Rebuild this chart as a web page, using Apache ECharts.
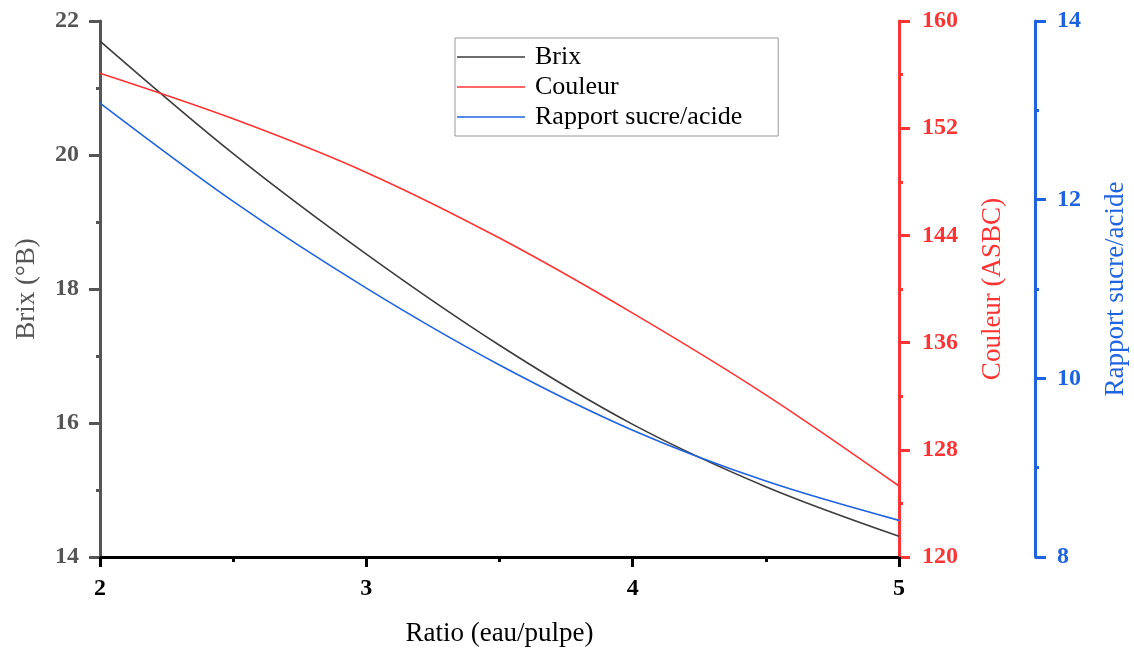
<!DOCTYPE html>
<html>
<head>
<meta charset="utf-8">
<script src="https://cdn.jsdelivr.net/npm/echarts@6/dist/echarts.min.js"></script>
<style>
html,body{margin:0;padding:0;background:#fff;}
#c{width:1134px;height:648px;}
</style>
</head>
<body>
<div id="c"></div>
<script>
const ratio = [2, 2.5, 3, 3.5, 4, 4.5, 5];
const brix = [21.70, 20.02, 18.52, 17.16, 15.98, 15.05, 14.31];
const couleur = [156.1, 152.7, 148.7, 143.8, 138.2, 132.1, 125.3];
const rapport = [13.08, 11.98, 11.01, 10.15, 9.42, 8.85, 8.41];
const seriesNames = ['Brix', 'Couleur', 'Rapport sucre/acide'];
const xTitle = 'Ratio (eau/pulpe)';
const yTitles = ['Brix (°B)', 'Couleur (ASBC)', 'Rapport sucre/acide'];

const SERIF = '"Liberation Serif", "Times New Roman", serif';
const GRAY = '#555555';
const RED = '#ff3333';
const BLUE = '#1f63e0';
const pairs = (ys) => ratio.map((x, i) => [x, ys[i]]);

const chart = echarts.init(document.getElementById('c'), null, {renderer: 'canvas'});
const yBase = (color, nameColor, margin) => ({
  type: 'value',
  nameLocation: 'middle',
  nameRotate: 90,
  nameTextStyle: {fontFamily: SERIF, fontSize: 27, color: nameColor},
  axisLine: {show: true, onZero: false, lineStyle: {color: color, width: 3}},
  axisTick: {show: true, inside: false, length: 11, lineStyle: {color: color, width: 3}},
  minorTick: {show: true, splitNumber: 2, length: 4, lineStyle: {color: color, width: 3}},
  axisLabel: {fontFamily: SERIF, fontWeight: 'bold', fontSize: 24, color: color, margin: margin},
  splitLine: {show: false}
});

const lineSeries = (i, ys, color) => ({
  name: seriesNames[i], type: 'line', yAxisIndex: i, data: pairs(ys),
  smooth: 0.3333, showSymbol: false, symbol: 'none',
  lineStyle: {color: color, width: 1.6}, itemStyle: {color: color}
});

chart.setOption({
  backgroundColor: '#ffffff',
  animation: false,
  grid: {left: 100, right: 235, top: 21, bottom: 91, containLabel: false, outerBoundsMode: 'none'},
  legend: {
    orient: 'vertical',
    left: 455, top: 38,
    padding: [4, 36, 4, 2],
    borderColor: '#999999', borderWidth: 1,
    itemWidth: 68, itemHeight: 14, itemGap: 0,
    textStyle: {fontFamily: SERIF, fontSize: 26, color: '#000', lineHeight: 30, padding: [0, 0, 0, 5]},
    data: seriesNames.map(n => ({name: n, icon: 'path://M0,0 L68,0 L68,1.5 L0,1.5 Z'}))
  },
  xAxis: {
    type: 'value', min: 2, max: 5, interval: 1,
    name: xTitle, nameLocation: 'middle', nameGap: 63,
    nameTextStyle: {fontFamily: SERIF, fontSize: 27, color: '#000'},
    axisLine: {show: true, onZero: false, lineStyle: {color: '#000', width: 3}},
    axisTick: {show: true, length: 10, lineStyle: {color: '#000', width: 3}},
    minorTick: {show: true, splitNumber: 2, length: 5, lineStyle: {color: '#000', width: 3}},
    axisLabel: {fontFamily: SERIF, fontWeight: 'bold', fontSize: 24, color: '#000', margin: 20},
    splitLine: {show: false}
  },
  yAxis: [
    Object.assign(yBase(GRAY, GRAY, 21), {min: 14, max: 22, interval: 2, position: 'left', name: yTitles[0], nameGap: 60}),
    Object.assign(yBase(RED, RED, 23), {min: 120, max: 160, interval: 8, position: 'right', name: yTitles[1], nameGap: 80}),
    Object.assign(yBase(BLUE, BLUE, 22), {min: 8, max: 14, interval: 2, position: 'right', offset: 136, name: yTitles[2], nameGap: 67})
  ],
  series: [
    lineSeries(0, brix, '#3c3c3c'),
    lineSeries(1, couleur, RED),
    lineSeries(2, rapport, BLUE)
  ]
});
</script>
</body>
</html>
